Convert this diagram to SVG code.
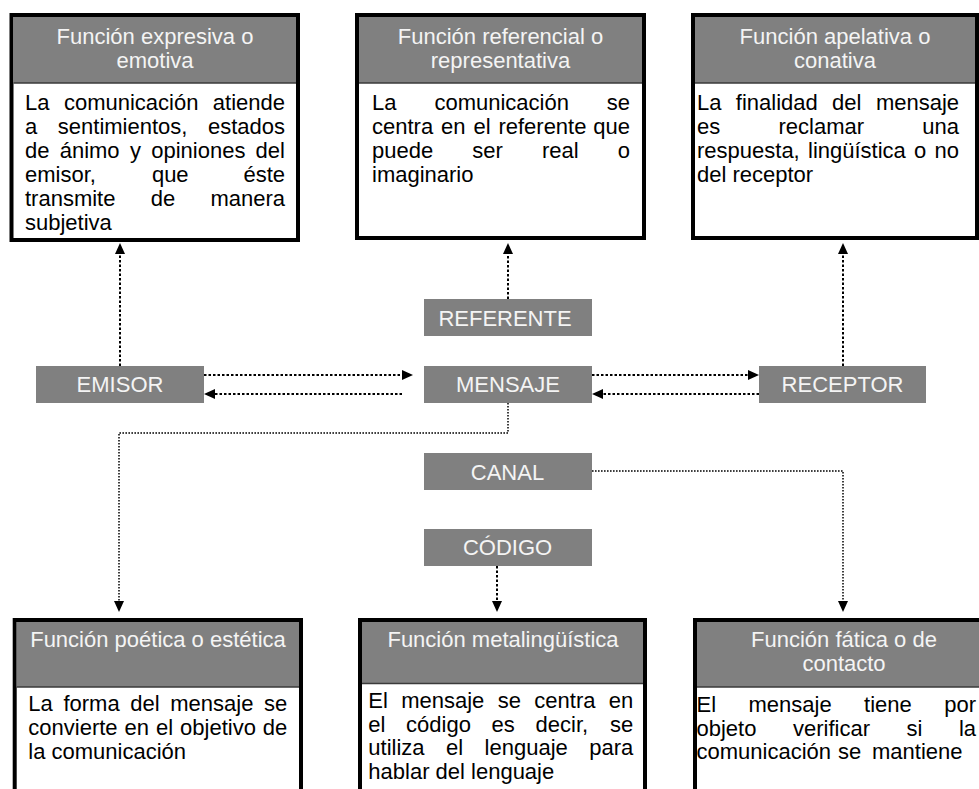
<svg xmlns="http://www.w3.org/2000/svg" width="979" height="789" viewBox="0 0 979 789">
<style>
  .box { fill: #ffffff; stroke: #000000; stroke-width: 4; }
  .hdr { fill: #808080; }
  .sep { stroke: #3a3a3a; stroke-width: 1.5; }
  .lbl { fill: #808080; }
  text { font-family: "Liberation Sans", Arial, sans-serif; font-size: 22px; }
  .ht { fill: #f4f4f4; text-anchor: middle; }
  .bt { fill: #000000; }
  .lt { fill: #f4f4f4; text-anchor: middle; }
  .c { fill: none; stroke: #000000; stroke-width: 2; stroke-dasharray: 2.5 2; }
  .c2 { fill: none; stroke: #000000; stroke-width: 1.5; stroke-dasharray: 1.6 1.4; }
</style>
<defs>
  <marker id="ah" markerUnits="userSpaceOnUse" markerWidth="12" markerHeight="11" refX="0" refY="5" orient="auto" overflow="visible">
    <path d="M0,0 L11,5 L0,10 z" fill="#000000"/>
  </marker>
</defs>
<rect width="979" height="789" fill="#ffffff"/>

<g id="n-expresiva">
  <rect class="box" x="11.5" y="15" width="286.5" height="225"/>
  <rect class="hdr" x="13.5" y="17" width="282.5" height="66"/>
  <line class="sep" x1="13.5" y1="83" x2="296" y2="83"/>
  <text class="ht" x="155" y="43.5">Función expresiva o</text>
  <text class="ht" x="155" y="67.5">emotiva</text>
  <text class="bt" y="110"><tspan x="25">La</tspan><tspan x="63.9">comunicación</tspan><tspan x="212.8">atiende</tspan></text>
  <text class="bt" y="133.9"><tspan x="25">a</tspan><tspan x="57.8">sentimientos,</tspan><tspan x="208">estados</tspan></text>
  <text class="bt" y="157.8"><tspan x="25">de</tspan><tspan x="59.7">ánimo</tspan><tspan x="129.9">y</tspan><tspan x="151.2">opiniones</tspan><tspan x="255.6">del</tspan></text>
  <text class="bt" y="181.7"><tspan x="25">emisor,</tspan><tspan x="151.9">que</tspan><tspan x="243.4">éste</tspan></text>
  <text class="bt" y="205.6"><tspan x="25">transmite</tspan><tspan x="150.7">de</tspan><tspan x="210.4">manera</tspan></text>
  <text class="bt" x="25" y="229.5">subjetiva</text>
</g>

<g id="n-referencial">
  <rect class="box" x="357" y="15" width="287" height="223"/>
  <rect class="hdr" x="359" y="17" width="283" height="66"/>
  <line class="sep" x1="359" y1="83" x2="642" y2="83"/>
  <text class="ht" x="500.5" y="43.5">Función referencial o</text>
  <text class="ht" x="500.5" y="67.5">representativa</text>
  <text class="bt" y="110"><tspan x="372">La</tspan><tspan x="434.4">comunicación</tspan><tspan x="606.8">se</tspan></text>
  <text class="bt" y="133.9"><tspan x="372">centra</tspan><tspan x="441">en</tspan><tspan x="473.4">el</tspan><tspan x="498.4">referente</tspan><tspan x="593.3">que</tspan></text>
  <text class="bt" y="157.8"><tspan x="372">puede</tspan><tspan x="472.3">ser</tspan><tspan x="542">real</tspan><tspan x="617.8">o</tspan></text>
  <text class="bt" x="372" y="181.7">imaginario</text>
</g>

<g id="n-apelativa">
  <rect class="box" x="693" y="15" width="284" height="223"/>
  <rect class="hdr" x="695" y="17" width="280" height="66"/>
  <line class="sep" x1="695" y1="83" x2="975" y2="83"/>
  <text class="ht" x="835" y="43.5">Función apelativa o</text>
  <text class="ht" x="835" y="67.5">conativa</text>
  <text class="bt" y="110"><tspan x="697">La</tspan><tspan x="735.8">finalidad</tspan><tspan x="832.1">del</tspan><tspan x="875.9">mensaje</tspan></text>
  <text class="bt" y="133.9"><tspan x="697">es</tspan><tspan x="778.5">reclamar</tspan><tspan x="922.3">una</tspan></text>
  <text class="bt" y="157.8"><tspan x="697">respuesta,</tspan><tspan x="808">lingüística</tspan><tspan x="914">o</tspan><tspan x="934.5">no</tspan></text>
  <text class="bt" x="697" y="181.7">del receptor</text>
</g>

<g id="n-emisor">
  <rect class="lbl" x="36" y="366" width="168" height="37"/>
  <text class="lt" x="120" y="392.3">EMISOR</text>
</g>
<g id="n-referente">
  <rect class="lbl" x="424" y="299" width="168" height="37"/>
  <text class="lt" x="505" y="325.5">REFERENTE</text>
</g>
<g id="n-mensaje">
  <rect class="lbl" x="424" y="366" width="168" height="37"/>
  <text class="lt" x="508" y="392.3">MENSAJE</text>
</g>
<g id="n-receptor">
  <rect class="lbl" x="759" y="366" width="167" height="37"/>
  <text class="lt" x="842.5" y="392.3">RECEPTOR</text>
</g>
<g id="n-canal">
  <rect class="lbl" x="424" y="453" width="168" height="37"/>
  <text class="lt" x="507.5" y="479.5">CANAL</text>
</g>
<g id="n-codigo">
  <rect class="lbl" x="424" y="529" width="168" height="37"/>
  <text class="lt" x="507.5" y="555.3">CÓDIGO</text>
</g>

<g id="n-poetica">
  <rect class="box" x="14.7" y="620" width="286.3" height="200"/>
  <rect class="hdr" x="16.7" y="622" width="282.3" height="65"/>
  <line class="sep" x1="16.7" y1="687" x2="299" y2="687"/>
  <text class="ht" x="158" y="647">Función poética o estética</text>
  <text class="bt" y="711"><tspan x="28.3">La</tspan><tspan x="63.4">forma</tspan><tspan x="130.3">del</tspan><tspan x="170.3">mensaje</tspan><tspan x="264.1">se</tspan></text>
  <text class="bt" y="735"><tspan x="28.3">convierte</tspan><tspan x="124.5">en</tspan><tspan x="156">el</tspan><tspan x="180.1">objetivo</tspan><tspan x="262.8">de</tspan></text>
  <text class="bt" x="28.3" y="759">la comunicación</text>
</g>

<g id="n-metalinguistica">
  <rect class="box" x="360" y="620" width="285" height="200"/>
  <rect class="hdr" x="362" y="622" width="281" height="61.5"/>
  <line class="sep" x1="362" y1="683.5" x2="643" y2="683.5"/>
  <text class="ht" x="503" y="647">Función metalingüística</text>
  <text class="bt" y="708"><tspan x="368.3">El</tspan><tspan x="401.2">mensaje</tspan><tspan x="497.7">se</tspan><tspan x="534.3">centra</tspan><tspan x="608.8">en</tspan></text>
  <text class="bt" y="731.5"><tspan x="368.3">el</tspan><tspan x="406.1">código</tspan><tspan x="491.6">es</tspan><tspan x="535.6">decir,</tspan><tspan x="610.1">se</tspan></text>
  <text class="bt" y="755"><tspan x="368.3">utiliza</tspan><tspan x="446">el</tspan><tspan x="484.6">lenguaje</tspan><tspan x="589.3">para</tspan></text>
  <text class="bt" x="368.3" y="778.5">hablar del lenguaje</text>
</g>

<g id="n-fatica">
  <rect class="box" x="695" y="620" width="300" height="200"/>
  <rect class="hdr" x="697" y="622" width="296" height="65"/>
  <line class="sep" x1="697" y1="687" x2="993" y2="687"/>
  <text class="ht" x="844" y="647">Función fática o de</text>
  <text class="ht" x="844" y="670.5">contacto</text>
  <text class="bt" y="712"><tspan x="696.5">El</tspan><tspan x="748.5">mensaje</tspan><tspan x="864.1">tiene</tspan><tspan x="944.2">por</tspan></text>
  <text class="bt" y="735.5"><tspan x="696.5">objeto</tspan><tspan x="793">verificar</tspan><tspan x="906.5">si</tspan><tspan x="958.9">la</tspan></text>
  <text class="bt" y="759"><tspan x="696.5">comunicación</tspan><tspan x="838">se</tspan><tspan x="872">mantiene</tspan></text>
</g>

<g id="connectors">
  <line class="c" x1="120" y1="366" x2="120" y2="254" marker-end="url(#ah)"/>
  <line class="c" x1="508" y1="299" x2="508" y2="254" marker-end="url(#ah)"/>
  <line class="c" x1="843" y1="366" x2="843" y2="254" marker-end="url(#ah)"/>
  <line class="c" x1="204" y1="375" x2="402" y2="375" marker-end="url(#ah)"/>
  <line class="c" x1="402" y1="394" x2="215" y2="394" marker-end="url(#ah)"/>
  <line class="c" x1="592" y1="375" x2="748" y2="375" marker-end="url(#ah)"/>
  <line class="c" x1="759" y1="394" x2="603" y2="394" marker-end="url(#ah)"/>
  <path class="c2" d="M508,403 V433 H119 V601" marker-end="url(#ah)"/>
  <path class="c2" d="M592,471 H843 V601" marker-end="url(#ah)"/>
  <path class="c" d="M497,566 V601" marker-end="url(#ah)"/>
</g>
</svg>
